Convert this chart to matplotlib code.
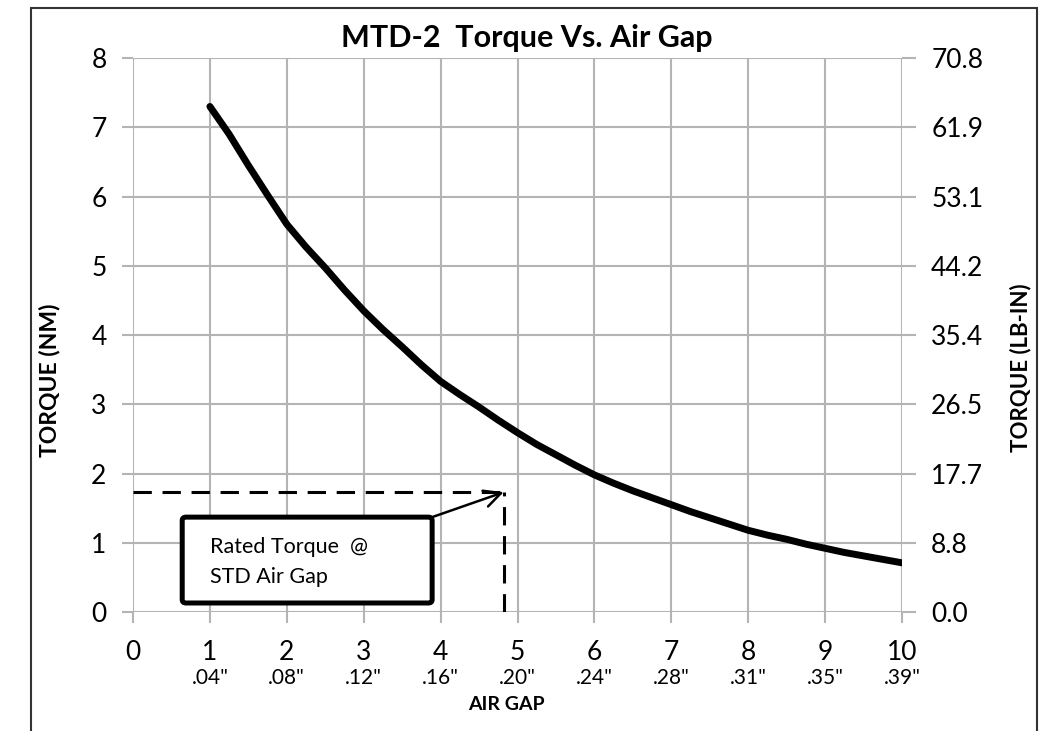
import matplotlib.pyplot as plt
from matplotlib.patches import FancyBboxPatch, Rectangle

plt.rcParams['font.family'] = ['Lato', 'DejaVu Sans']

# curve (air gap index vs torque in NM)
gap = [1.0, 1.25, 1.5, 1.75, 2.0, 2.25, 2.5, 2.75, 3.0, 3.25, 3.5, 3.75,
       4.0, 4.25, 4.5, 4.75, 5.0, 5.25, 5.5, 5.75, 6.0, 6.25, 6.5, 6.75,
       7.0, 7.25, 7.5, 7.75, 8.0, 8.25, 8.5, 8.75, 9.0, 9.25, 9.5, 9.75, 10.0]
torque_nm = [7.30, 6.90, 6.45, 6.02, 5.60, 5.27, 4.97, 4.65, 4.35, 4.08, 3.83, 3.57,
             3.33, 3.14, 2.96, 2.77, 2.59, 2.42, 2.27, 2.12, 1.98, 1.86, 1.75, 1.65,
             1.55, 1.45, 1.36, 1.27, 1.18, 1.11, 1.05, 0.98, 0.92, 0.86, 0.81, 0.76, 0.71]

x_ticks = list(range(0, 11))
gap_inch = ['', '.04"', '.08"', '.12"', '.16"', '.20"', '.24"', '.28"', '.31"', '.35"', '.39"']
y_ticks = list(range(0, 9))
lbin_labels = ['0.0', '8.8', '17.7', '26.5', '35.4', '44.2', '53.1', '61.9', '70.8']

rated_gap = 4.82
rated_torque = 1.73

W, H = 1042, 731
fig = plt.figure(figsize=(W / 100, H / 100), dpi=100)
ax = fig.add_axes([133 / W, 1 - 612 / H, (902 - 133) / W, (612 - 58) / H])

grey = '#b4b4b4'
ax.set_xlim(0, 10)
ax.set_ylim(0, 8)
ax.set_xticks(x_ticks)
ax.set_yticks(y_ticks)
ax.grid(True, color=grey, lw=1.5, zorder=0)
for s in ax.spines.values():
    s.set_visible(False)
ax.tick_params(axis='both', color=grey, width=1.5, length=8, labelsize=19, pad=12)
ax.tick_params(axis='y', pad=11)

ax2 = ax.twinx()
ax2.set_ylim(0, 8)
ax2.set_yticks(y_ticks)
ax2.set_yticklabels(lbin_labels)
for s in ax2.spines.values():
    s.set_visible(False)
ax2.tick_params(axis='y', color=grey, width=1.5, length=10, labelsize=19, pad=11)

# second row of x labels (inches)
for xv, lab in zip(x_ticks, gap_inch):
    ax.text(xv, -0.95, lab, ha='center', va='center', fontsize=15)

ax.plot(gap, torque_nm, color='black', lw=5, solid_capstyle='round',
        solid_joinstyle='round', zorder=3)

# rated torque marker
ax.plot([0, rated_gap], [rated_torque, rated_torque], color='black', lw=2.2,
        dashes=(6, 3.5), zorder=3)
ax.plot([rated_gap, rated_gap], [0, rated_torque], color='black', lw=2.2,
        dashes=(6, 3.5), zorder=3)
box = FancyBboxPatch((0.64, 0.13), 3.25, 1.24, boxstyle='round,pad=0,rounding_size=0.05',
                     fc='white', ec='black', lw=3.6, zorder=4)
ax.add_patch(box)
ax.text(1.0, 0.94, 'Rated Torque  @', fontsize=15.5, va='center', zorder=5)
ax.text(1.0, 0.51, 'STD Air Gap', fontsize=15.5, va='center', zorder=5)
ax.annotate('', xy=(rated_gap, rated_torque), xytext=(3.89, 1.37),
            arrowprops=dict(arrowstyle='->', color='black', lw=1.8,
                            mutation_scale=30, shrinkA=0, shrinkB=0), zorder=5)

fig.text(527 / W, 1 - 38 / H, 'MTD-2  Torque Vs. Air Gap', ha='center', va='center',
         fontsize=22, fontweight='bold')
fig.text(50 / W, 1 - 380 / H, 'TORQUE (NM)', rotation=90, ha='center', va='center',
         fontsize=16.5, fontweight='bold')
fig.text(1021 / W, 1 - 368 / H, 'TORQUE (LB-IN)', rotation=90, ha='center', va='center',
         fontsize=16, fontweight='bold')
fig.text(506 / W, 1 - 705 / H, 'AIR GAP', ha='center', va='center',
         fontsize=14, fontweight='bold')

# outer frame
fig.patches.append(Rectangle((31, -20), 1037 - 31, H - 8 + 20, transform=None,
                             fill=False, ec='#333333', lw=1.5))

fig.savefig('out.png', dpi=100)
